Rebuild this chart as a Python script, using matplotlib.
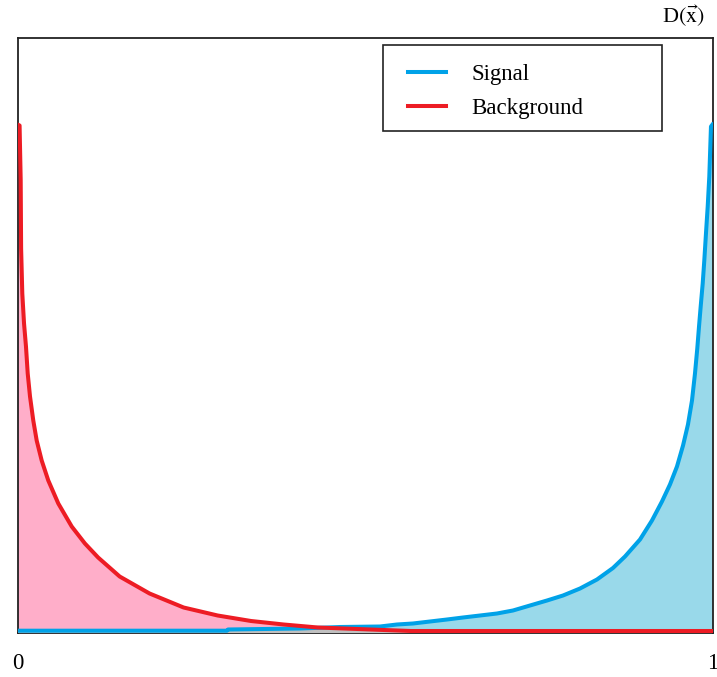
import numpy as np
import matplotlib
matplotlib.use("Agg")
import matplotlib.pyplot as plt
from matplotlib.lines import Line2D
from matplotlib.patches import Rectangle

plt.rcParams["font.family"] = ["Liberation Serif", "DejaVu Serif"]
plt.rcParams["mathtext.fontset"] = "stix"

# Discriminant output D(x) and the two class distributions (arbitrary units)
bkg_x = [0.000, 0.003, 0.0046, 0.0052, 0.0069, 0.0094, 0.0122, 0.0147, 0.018, 0.0227,
         0.0276, 0.0348, 0.0443, 0.0587, 0.078, 0.097, 0.116, 0.147, 0.190, 0.239,
         0.288, 0.336, 0.383, 0.432, 0.470, 0.527, 0.566, 0.600, 0.800, 1.000]
bkg_y = [5.08, 5.07, 4.52, 3.84, 3.39, 3.09, 2.86, 2.59, 2.36, 2.12,
         1.92, 1.72, 1.52, 1.29, 1.06, 0.89, 0.75, 0.56, 0.39, 0.25,
         0.17, 0.115, 0.08, 0.05, 0.04, 0.025, 0.015, 0.015, 0.015, 0.015]

sig_x = [0.000, 0.100, 0.200, 0.3014, 0.3030, 0.4065, 0.464, 0.5216, 0.546, 0.569,
         0.5935, 0.618, 0.641, 0.6655, 0.6899, 0.7129, 0.7374, 0.7619, 0.7849, 0.8094,
         0.8338, 0.8568, 0.8741, 0.8957, 0.9129, 0.9273, 0.9388, 0.9489, 0.9576, 0.9647,
         0.9705, 0.9748, 0.9781, 0.9806, 0.9830, 0.9859, 0.9882, 0.9906, 0.9931, 0.9954,
         0.9978, 1.000]
sig_y = [0.018, 0.018, 0.018, 0.018, 0.03, 0.04, 0.055, 0.06, 0.08, 0.09,
         0.11, 0.13, 0.15, 0.17, 0.19, 0.22, 0.27, 0.32, 0.37, 0.44,
         0.53, 0.645, 0.76, 0.93, 1.12, 1.31, 1.48, 1.66, 1.87, 2.08,
         2.32, 2.59, 2.84, 3.06, 3.26, 3.49, 3.72, 3.99, 4.26, 4.56,
         5.06, 5.08]

labels = ["Signal", "Background"]
tick_labels = ["0", "1"]

sig_line = "#00A2E8"
bkg_line = "#ED1C24"
sig_fill = "#99D9EA"
bkg_fill = "#FFAEC9"
overlap_fill = "#C0C0C0"
line_w = 2.9

fig = plt.figure(figsize=(7.17, 6.77), dpi=100)
ax = fig.add_axes([17.5 / 717, 1 - 632.5 / 677, 695 / 717, 594.5 / 677])

# common grid for the overlap region under both curves
grid = np.union1d(bkg_x, sig_x)
b_on = np.interp(grid, bkg_x, bkg_y)
s_on = np.interp(grid, sig_x, sig_y)

ax.fill_between(bkg_x, 0, bkg_y, color=bkg_fill, lw=0, zorder=1)
ax.fill_between(sig_x, 0, sig_y, color=sig_fill, lw=0, zorder=2)
ax.fill_between(grid, 0, np.minimum(b_on, s_on), color=overlap_fill, lw=0, zorder=3)
ax.plot(sig_x, sig_y, color=sig_line, lw=line_w, zorder=4, solid_joinstyle="round")
ax.plot(bkg_x, bkg_y, color=bkg_line, lw=line_w, zorder=5, solid_joinstyle="round")

ax.set_xlim(0, 1)
ax.set_ylim(0, 5.945)
ax.set_xticks([0, 1])
ax.set_xticklabels(tick_labels, fontsize=16.5)
ax.set_yticks([])
ax.tick_params(axis="x", length=0, pad=15)
for sp in ax.spines.values():
    sp.set_color("#222222")
    sp.set_linewidth(1.3)

# legend entries without frame; frame drawn as a separate rectangle
handles = [Line2D([], [], color=sig_line, lw=line_w),
           Line2D([], [], color=bkg_line, lw=line_w)]
ax.legend(handles, labels, loc="center left",
          bbox_to_anchor=((408 - 17.5) / 695, (632.5 - 91.5) / 594.5),
          frameon=False, borderpad=0, borderaxespad=0, fontsize=16.5,
          handlelength=1.65, handletextpad=1.1, labelspacing=0.56)
ax.add_patch(Rectangle(((383 - 17.5) / 695, (632.5 - 131) / 594.5),
                       279 / 695, 86 / 594.5, transform=ax.transAxes,
                       fill=False, ec="#222222", lw=1.2, zorder=6))

fig.text(683 / 717, 1 - 16 / 677, r"D$(\vec{\mathrm{x}})$", fontsize=16,
         ha="center", va="center")

fig.savefig("out.png", dpi=100)
